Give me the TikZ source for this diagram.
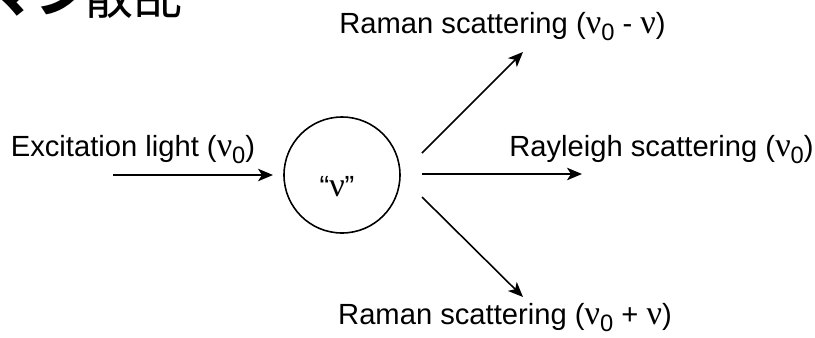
\documentclass[tikz,border=0pt]{standalone}
\usepackage{fontspec}
\setmainfont{Liberation Sans}
\newfontfamily\greekfont{Liberation Serif}
\newfontfamily\jpfont{Noto Sans CJK JP}
\usetikzlibrary{arrows.meta}
\newcommand{\nuv}{{\greekfont\fontsize{19.5}{20}\selectfont ν}}
\newcommand{\nusub}[1]{\raisebox{-0.45ex}{\fontsize{13.5}{14}\selectfont #1}}
\tikzset{
  lbl/.style={font=\fontsize{16.6}{19}\selectfont, inner sep=0pt},
  ray/.style={line width=0.9pt, -{Stealth[length=0.3cm, width=0.25cm, inset=0.08cm]}},
}
\begin{document}
\begin{tikzpicture}
        \useasboundingbox (0,0) rectangle (16.3,6.74);               %
        \clip (0,0) rectangle (16.3,6.74);                           %
        \node [anchor=base west, inner sep=0pt, font=\jpfont\bfseries\fontsize{28}{28}\selectfont] (jpkana) at (-0.26,6.49) {マン};
        \node [anchor=base west, inner sep=0pt, font=\jpfont\fontsize{28}{28}\selectfont] (jpkanji) at (1.68,6.46) {散乱};
        \node [circle, draw, line width=0.9pt, minimum size=2.32cm] (mol) at (6.84,3.24) {};
        \node [lbl] (molnu) at (6.74,3.0) {“\nuv"};                  %molecule
        \coordinate (excstart) at (2.26,3.24);                      %
        \coordinate (excend)   at (5.46,3.24);                      %
        \coordinate (raystart) at (8.44,3.26);                      %
        \coordinate (rayend)   at (11.64,3.26);                     %
        \coordinate (upstart)  at (8.44,3.68);                      %
        \coordinate (upend)    at (10.46,5.70);                     %
        \coordinate (lostart)  at (8.44,2.80);                      %
        \coordinate (loend)    at (10.46,0.80);                     %
        \draw [ray] (excstart) -- (excend);                         %incident
        \draw [ray] (raystart) -- (rayend);                         %Rayleigh
        \draw [ray] (upstart)  -- (upend);                          %Stokes
        \draw [ray] (lostart)  -- (loend);                          %anti-Stokes
        \node [lbl] (exclbl) at (2.66,3.74)  {Excitation light (\nuv\nusub{0})};
        \node [lbl] (raylbl) at (13.23,3.74) {Rayleigh scattering (\nuv\nusub{0})};
        \node [lbl] (uplbl)  at (10.05,6.2)  {Raman scattering (\nuv\nusub{0} - \nuv)};
        \node [lbl] (lolbl)  at (10.1,0.38)  {Raman scattering (\nuv\nusub{0} + \nuv)};
\end{tikzpicture}
\end{document}
